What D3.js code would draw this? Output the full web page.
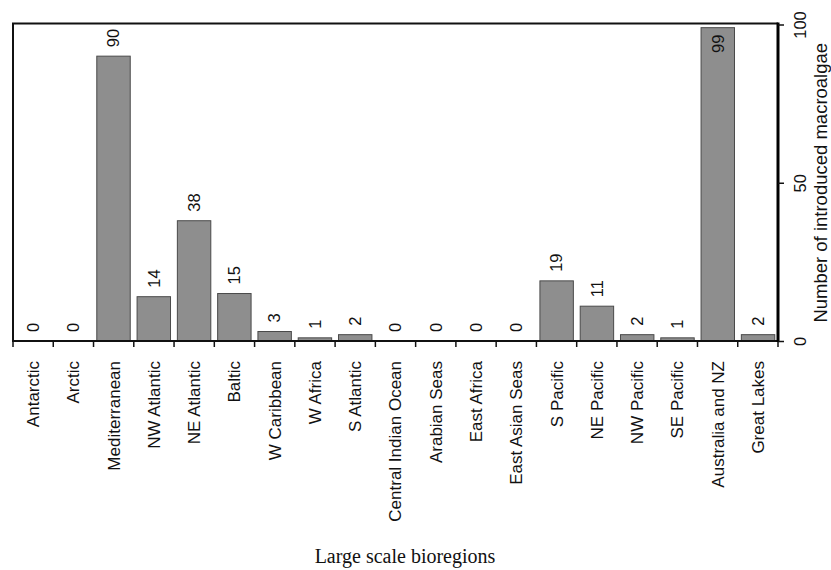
<!DOCTYPE html>
<html>
<head>
<meta charset="utf-8">
<script src="https://cdn.jsdelivr.net/npm/d3@7"></script>
<style>
  html, body { margin: 0; padding: 0; background: #fff; }
  svg { display: block; }
</style>
</head>
<body>
<svg id="chart" width="831" height="570"></svg>
<script>
// Introduced macroalgae per large scale bioregion
const regions = [
  "Antarctic", "Arctic", "Mediterranean", "NW Atlantic", "NE Atlantic", "Baltic",
  "W Caribbean", "W Africa", "S Atlantic", "Central Indian Ocean", "Arabian Seas",
  "East Africa", "East Asian Seas", "S Pacific", "NE Pacific", "NW Pacific",
  "SE Pacific", "Australia and NZ", "Great Lakes"
];
const counts = [0, 0, 90, 14, 38, 15, 3, 1, 2, 0, 0, 0, 0, 19, 11, 2, 1, 99, 2];
const yTicks = [0, 50, 100];
const xTitle = "Large scale bioregions";
const yTitle = "Number of introduced macroalgae";

const svg = d3.select("#chart");
const plotLeft = 13, plotRight = 778, plotTop = 23.5, plotBottom = 341;
const sans = "Arial, 'Liberation Sans', Helvetica, sans-serif";

const x = d3.scaleBand().domain(regions).range([plotLeft, plotRight])
  .paddingInner(0.17).paddingOuter(0.08);
// boundaries between categories carry the ticks
const xb = d3.scaleBand().domain(regions).range([plotLeft, plotRight]).padding(0);
const y = d3.scaleLinear().domain([0, 100]).range([plotBottom, 24.5]);

const data = regions.map((r, i) => ({ region: r, value: counts[i] }));

// bars
svg.append("g").selectAll("rect").data(data).join("rect")
  .attr("x", d => x(d.region))
  .attr("y", d => y(d.value))
  .attr("width", x.bandwidth())
  .attr("height", d => y(0) - y(d.value))
  .attr("fill", "#8e8e8e")
  .attr("stroke", "#4a4a4a")
  .attr("stroke-width", 1);

// frame: left and top edges
svg.append("path")
  .attr("d", `M${plotLeft},${plotBottom}V${plotTop}H${plotRight}`)
  .attr("fill", "none").attr("stroke", "#111").attr("stroke-width", 2);

// bottom axis line and boundary ticks
const xAxis = svg.append("g");
xAxis.append("line")
  .attr("x1", plotLeft - 1).attr("x2", plotRight).attr("y1", plotBottom).attr("y2", plotBottom)
  .attr("stroke", "#111").attr("stroke-width", 2);
const bounds = regions.map(r => xb(r)).concat([plotRight]);
xAxis.selectAll("line.tick").data(bounds).join("line")
  .attr("class", "tick")
  .attr("x1", d => d).attr("x2", d => d)
  .attr("y1", plotBottom).attr("y2", plotBottom + 6)
  .attr("stroke", "#111").attr("stroke-width", 1.5);

// category labels
svg.append("g").selectAll("text").data(regions).join("text")
  .attr("transform", r => `translate(${xb(r) + xb.bandwidth() / 2},${361}) rotate(-90)`)
  .attr("text-anchor", "end")
  .attr("dy", "0.35em")
  .attr("font-family", sans).attr("font-size", 17).attr("fill", "#111")
  .text(r => r);

// value labels, tucked inside the bar when the frame leaves no room above
const labelSize = 16.5;
svg.append("g").selectAll("text").data(data).join("text")
  .each(function (d) {
    const t = d3.select(this);
    const cx = x(d.region) + x.bandwidth() / 2;
    const len = String(d.value).length * labelSize * 0.556;
    const yTop = y(d.value);
    if (yTop - 9 - len < plotTop) {
      t.attr("transform", `translate(${cx},${yTop + 7}) rotate(-90)`).attr("text-anchor", "end");
    } else {
      t.attr("transform", `translate(${cx},${yTop - 9}) rotate(-90)`).attr("text-anchor", "start");
    }
  })
  .attr("dy", "0.35em")
  .attr("font-family", sans).attr("font-size", labelSize).attr("fill", "#111")
  .text(d => d.value);

// right value axis
const yAxis = svg.append("g").attr("transform", `translate(${plotRight},0)`)
  .call(d3.axisRight(y).tickValues(yTicks).tickSize(6).tickSizeOuter(0));
yAxis.select(".domain")
  .attr("d", `M0,${plotBottom + 1}V${plotTop - 1}`)
  .attr("stroke", "#000").attr("stroke-width", 3);
yAxis.selectAll(".tick line").attr("stroke", "#111").attr("stroke-width", 1.5);
yAxis.selectAll(".tick text")
  .attr("x", null)
  .attr("transform", "translate(22,0) rotate(-90)")
  .attr("text-anchor", "middle")
  .attr("dy", "0.35em")
  .attr("font-family", sans).attr("font-size", 16.5).attr("fill", "#111");

// axis titles
svg.append("text")
  .attr("transform", `translate(821,${y(50)}) rotate(-90)`)
  .attr("text-anchor", "middle").attr("dy", "0.35em")
  .attr("font-family", sans).attr("font-size", 18.5).attr("fill", "#111")
  .text(yTitle);

svg.append("text")
  .attr("x", 405).attr("y", 563)
  .attr("text-anchor", "middle")
  .attr("font-family", "'Times New Roman', 'Liberation Serif', serif")
  .attr("font-size", 20).attr("fill", "#111")
  .text(xTitle);
</script>
</body>
</html>
